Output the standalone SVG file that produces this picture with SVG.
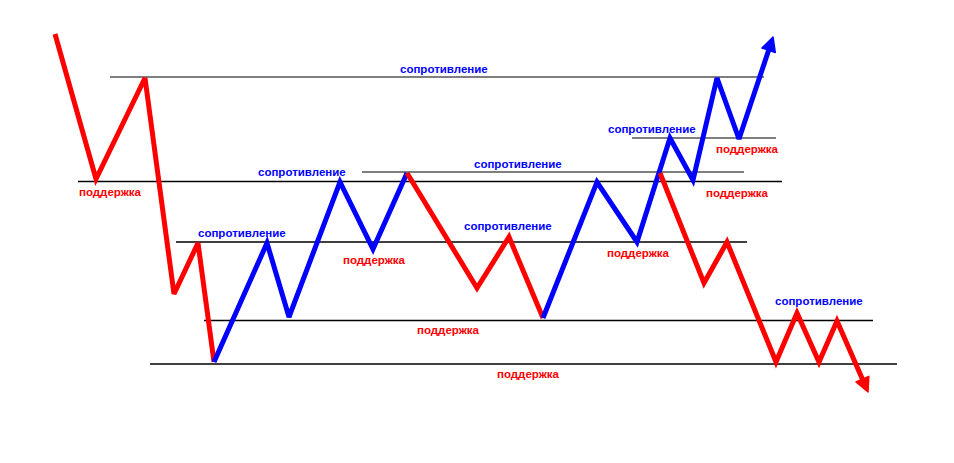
<svg xmlns="http://www.w3.org/2000/svg" width="954" height="463" viewBox="0 0 954 463">
<style>
.lvl{stroke:#000;stroke-width:1.4;fill:none}
.lvg{stroke:#555;stroke-width:1.6;fill:none}
.red{stroke:#ff0000;stroke-width:5;fill:none;stroke-linejoin:miter;stroke-miterlimit:3}
.blue{stroke:#0000ff;stroke-width:5;fill:none;stroke-linejoin:miter;stroke-miterlimit:3}
text{font-family:"Liberation Sans",Arial,sans-serif;font-weight:bold;font-size:11.5px}
.rt{fill:#ff0000}
.bt{fill:#0000ff}
</style>
<defs>
<marker id="ab" markerUnits="userSpaceOnUse" viewBox="-6 -9 18 18" markerWidth="18" markerHeight="18" refX="0" refY="0" orient="auto">
<path d="M-4,-7 L10,0 L-4,7 z" fill="#0000ff" stroke="#0000ff" stroke-width="1.5" stroke-linejoin="round"/>
</marker>
<marker id="ar" markerUnits="userSpaceOnUse" viewBox="-6 -9 18 18" markerWidth="18" markerHeight="18" refX="0" refY="0" orient="auto">
<path d="M-4,-7 L10,0 L-4,7 z" fill="#ff0000" stroke="#ff0000" stroke-width="1.5" stroke-linejoin="round"/>
</marker>
</defs>
<rect width="954" height="463" fill="#fff"/>
<g id="levels">
<line class="lvg" x1="110" y1="77" x2="764" y2="77"/>
<line class="lvg" x1="632" y1="138" x2="776" y2="138"/>
<line class="lvg" x1="362" y1="172" x2="744" y2="172"/>
<line class="lvl" x1="78" y1="181.5" x2="782" y2="181.5"/>
<line class="lvl" x1="176" y1="242" x2="747" y2="242"/>
<line class="lvl" x1="204" y1="320.5" x2="873" y2="320.5"/>
<line class="lvl" x1="150" y1="364" x2="897" y2="364"/>
</g>
<g id="connectors">
<polyline class="red" points="55,34 96,179 145,78 174,294 198,243 214,362"/>
<polyline class="blue" points="214,362 267,243 289,317 340,182 373,249 407,173"/>
<polyline class="red" points="407,173 477,288 509,237 543,318"/>
<polyline class="blue" points="543,318 597,182 637,242 670,138 693,180 717,78 739,139 769.9,46.5" marker-end="url(#ab)"/>
<polyline class="red" points="660,173 704,283 727,242 776,362 797,313 819,362 837,321 864,382.8" marker-end="url(#ar)"/>
</g>
<g id="labels">
<g id="l1"><text class="bt" x="400" y="73">сопротивление</text></g>
<g id="l2"><text class="rt" x="79" y="196">поддержка</text></g>
<g id="l3"><text class="bt" x="258" y="176">сопротивление</text></g>
<g id="l4"><text class="bt" x="198" y="237">сопротивление</text></g>
<g id="l5"><text class="rt" x="343" y="264">поддержка</text></g>
<g id="l6"><text class="bt" x="474" y="168">сопротивление</text></g>
<g id="l7"><text class="bt" x="464" y="230">сопротивление</text></g>
<g id="l8"><text class="rt" x="417" y="334">поддержка</text></g>
<g id="l9"><text class="rt" x="497" y="378">поддержка</text></g>
<g id="l10"><text class="bt" x="608" y="133">сопротивление</text></g>
<g id="l11"><text class="rt" x="716" y="153">поддержка</text></g>
<g id="l12"><text class="rt" x="706" y="197">поддержка</text></g>
<g id="l13"><text class="rt" x="607" y="257">поддержка</text></g>
<g id="l14"><text class="bt" x="775" y="305">сопротивление</text></g>
</g>
</svg>
